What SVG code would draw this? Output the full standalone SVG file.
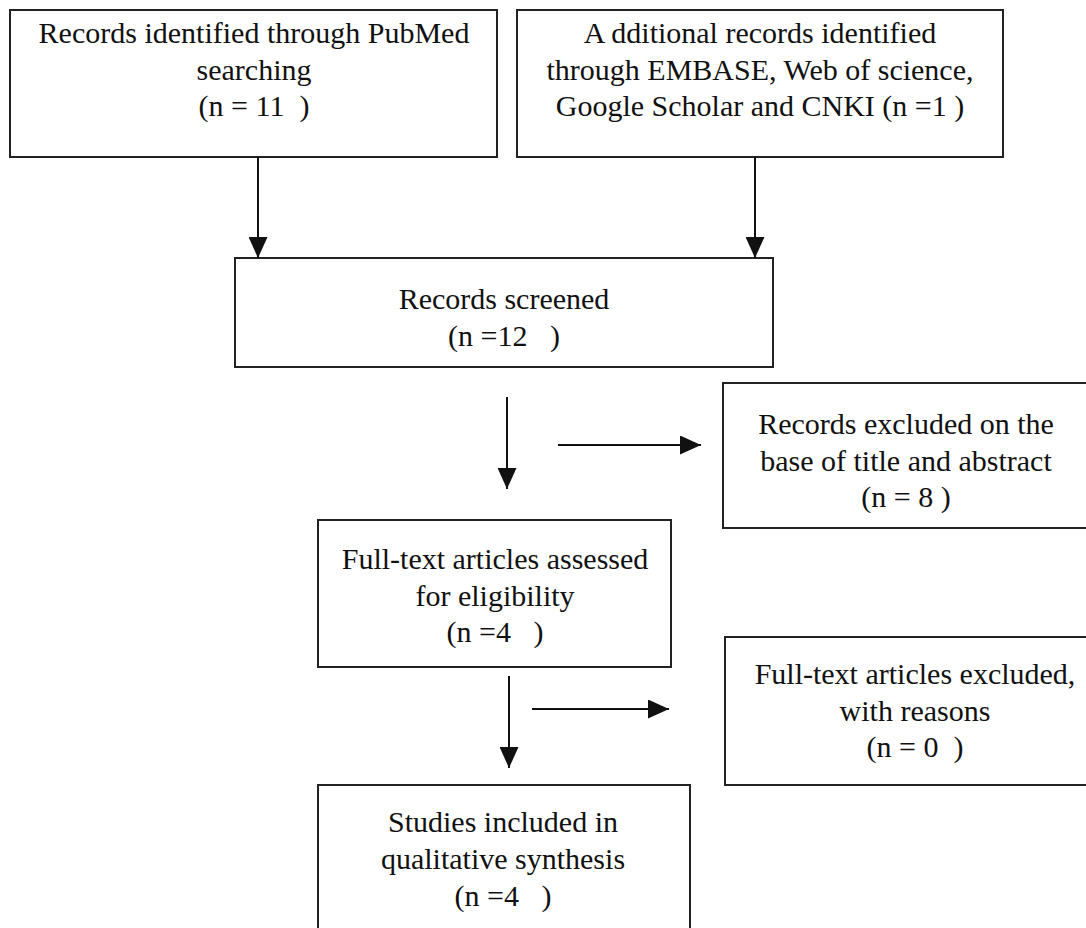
<svg xmlns="http://www.w3.org/2000/svg" width="1086" height="928" viewBox="0 0 1086 928">
<style>
.box{fill:#fff;stroke:#222;stroke-width:2}
.t{font-family:'Liberation Serif','Times New Roman',serif;font-size:30px;fill:#111;text-anchor:middle;white-space:pre}
.c{stroke:#111;stroke-width:2;fill:none}
</style>
<defs>
<marker id="ah" markerWidth="21" markerHeight="19" refX="21" refY="9.5" orient="auto" markerUnits="userSpaceOnUse" viewBox="0 0 21 19">
<path d="M0,0 L21,9.5 L0,19 Z" fill="#111"/>
</marker>
</defs>
<rect width="1086" height="928" fill="#fff"/>
<g id="n1" font-family="Liberation Serif, serif"><rect class="box" x="10" y="10" width="487" height="147"/>
<text class="t" x="254" y="43">Records identified through PubMed</text>
<text class="t" x="254" y="80">searching</text>
<text class="t" x="254" y="116" xml:space="preserve">(n = 11  )</text></g>
<g id="n2" font-family="Liberation Serif, serif"><rect class="box" x="517" y="10" width="486" height="147"/>
<text class="t" x="760" y="43">A dditional records identified</text>
<text class="t" x="760" y="80">through EMBASE, Web of science,</text>
<text class="t" x="760" y="116">Google Scholar and CNKI (n =1 )</text></g>
<g id="n3" font-family="Liberation Serif, serif"><rect class="box" x="235" y="258" width="538" height="109"/>
<text class="t" x="504" y="309">Records screened</text>
<text class="t" x="504" y="346" xml:space="preserve">(n =12   )</text></g>
<g id="n4" font-family="Liberation Serif, serif"><rect class="box" x="723" y="383" width="370" height="145"/>
<text class="t" x="906" y="434">Records excluded on the</text>
<text class="t" x="906" y="471">base of title and abstract</text>
<text class="t" x="906" y="507">(n = 8 )</text></g>
<g id="n5" font-family="Liberation Serif, serif"><rect class="box" x="318" y="520" width="353" height="147"/>
<text class="t" x="495" y="569">Full-text articles assessed</text>
<text class="t" x="495" y="606">for eligibility</text>
<text class="t" x="495" y="642" xml:space="preserve">(n =4   )</text></g>
<g id="n6" font-family="Liberation Serif, serif"><rect class="box" x="725" y="637" width="370" height="148"/>
<text class="t" x="915" y="684">Full-text articles excluded,</text>
<text class="t" x="915" y="721">with reasons</text>
<text class="t" x="915" y="757" xml:space="preserve">(n = 0  )</text></g>
<g id="n7" font-family="Liberation Serif, serif"><rect class="box" x="318" y="785" width="372" height="160"/>
<text class="t" x="503" y="832">Studies included in</text>
<text class="t" x="503" y="869">qualitative synthesis</text>
<text class="t" x="503" y="906" xml:space="preserve">(n =4   )</text></g>
<g id="connectors">
<line class="c" x1="258" y1="157" x2="258" y2="258" marker-end="url(#ah)"/>
<line class="c" x1="755" y1="157" x2="755" y2="258" marker-end="url(#ah)"/>
<line class="c" x1="507" y1="397" x2="507" y2="489" marker-end="url(#ah)"/>
<line class="c" x1="558" y1="445" x2="701" y2="445" marker-end="url(#ah)"/>
<line class="c" x1="509" y1="676" x2="509" y2="768" marker-end="url(#ah)"/>
<line class="c" x1="532" y1="709" x2="669" y2="709" marker-end="url(#ah)"/>
</g>
</svg>
